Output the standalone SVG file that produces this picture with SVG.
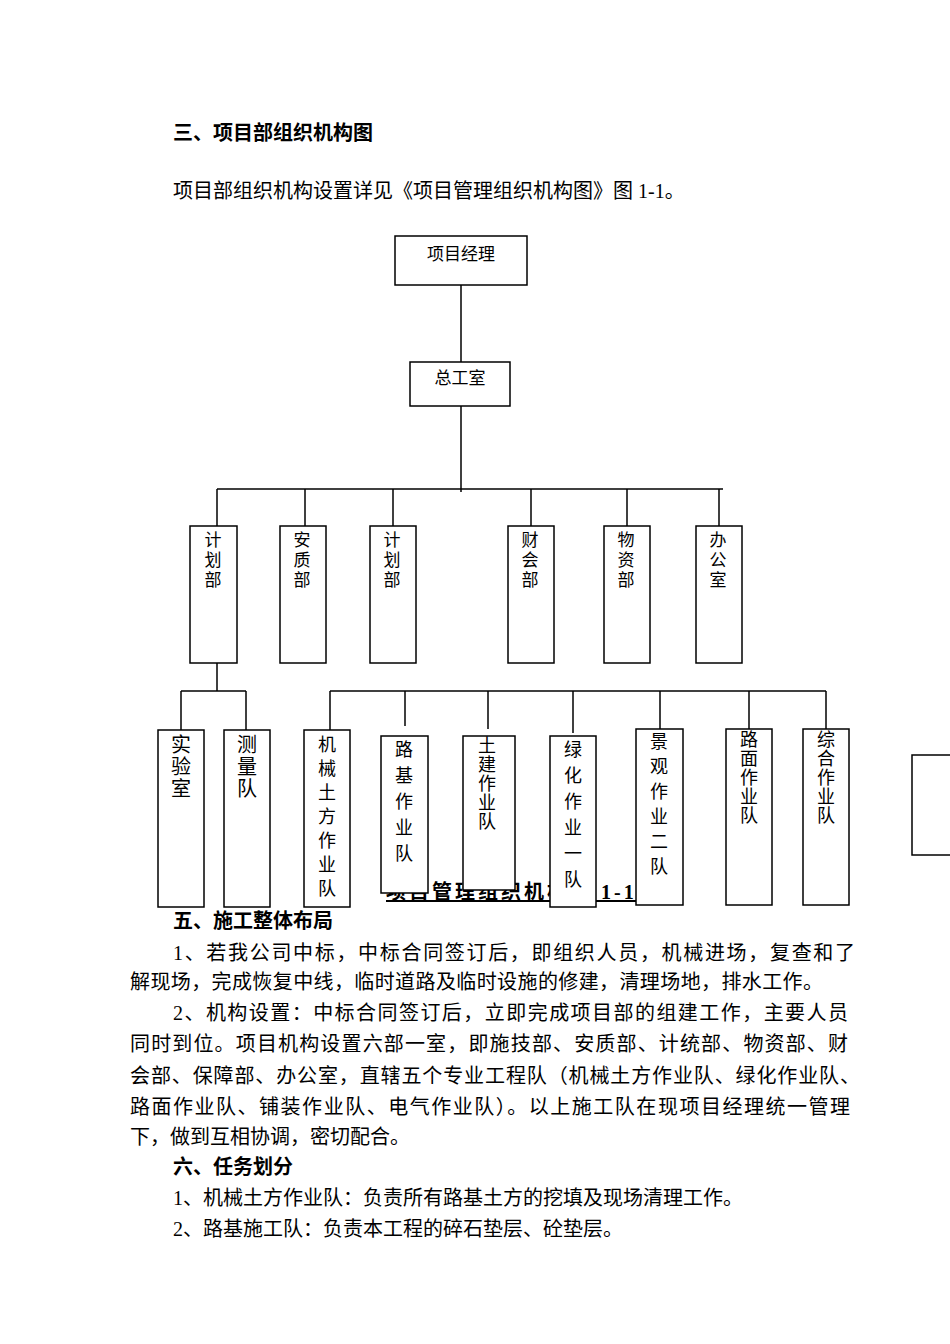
<svg xmlns="http://www.w3.org/2000/svg" width="950" height="1344" viewBox="0 0 950 1344">
<style>
text{font-family:"Liberation Serif","Noto Sans CJK SC",serif;fill:#000}
.b{font-weight:bold}
.p{font-size:20px}
.n{font-size:17px;text-anchor:middle}
.v{font-size:18px;text-anchor:middle}
rect{fill:#fff;stroke:#000;stroke-width:1.5}
.c line{stroke:#000;stroke-width:1.5}
</style>
<rect x="0" y="0" width="950" height="1344" style="stroke:none"/>
<text class="p b" x="173" y="140">三、项目部组织机构图</text>
<text class="p" x="173" y="198">项目部组织机构设置详见《项目管理组织机构图》图 1-1。</text>
<text class="p b" x="386" y="899" letter-spacing="3" text-decoration="underline">项目管理组织机构图 1-1</text>
<g class="c">
<line x1="461" y1="285" x2="461" y2="362"/>
<line x1="461" y1="406" x2="461" y2="492"/>
<line x1="217" y1="489" x2="723" y2="489"/>
<line x1="217" y1="489" x2="217" y2="526"/>
<line x1="305" y1="489" x2="305" y2="526"/>
<line x1="393" y1="489" x2="393" y2="526"/>
<line x1="531" y1="489" x2="531" y2="526"/>
<line x1="627" y1="489" x2="627" y2="526"/>
<line x1="719" y1="489" x2="719" y2="526"/>
<line x1="217" y1="663" x2="217" y2="691"/>
<line x1="181" y1="691" x2="246" y2="691"/>
<line x1="181" y1="691" x2="181" y2="730"/>
<line x1="246" y1="691" x2="246" y2="730"/>
<line x1="330" y1="691" x2="826" y2="691"/>
<line x1="330" y1="691" x2="330" y2="730"/>
<line x1="405" y1="691" x2="405" y2="726"/>
<line x1="488" y1="691" x2="488" y2="729"/>
<line x1="573" y1="691" x2="573" y2="733"/>
<line x1="660" y1="691" x2="660" y2="729"/>
<line x1="749" y1="691" x2="749" y2="729"/>
<line x1="826" y1="691" x2="826" y2="729"/>
</g>
<g id="n1"><rect x="395" y="236" width="132" height="49"/><text class="n" x="461" y="260">项目经理</text></g>
<g id="n2"><rect x="410" y="362" width="100" height="44"/><text class="n" x="460" y="384">总工室</text></g>
<g id="d1"><rect x="190" y="526" width="47" height="137"/><text class="n" x="213" y="546">计<tspan x="213" dy="20">划</tspan><tspan x="213" dy="20">部</tspan></text></g>
<g id="d2"><rect x="280" y="526" width="46" height="137"/><text class="n" x="302" y="546">安<tspan x="302" dy="20">质</tspan><tspan x="302" dy="20">部</tspan></text></g>
<g id="d3"><rect x="370" y="526" width="46" height="137"/><text class="n" x="392" y="546">计<tspan x="392" dy="20">划</tspan><tspan x="392" dy="20">部</tspan></text></g>
<g id="d4"><rect x="508" y="526" width="46" height="137"/><text class="n" x="530" y="546">财<tspan x="530" dy="20">会</tspan><tspan x="530" dy="20">部</tspan></text></g>
<g id="d5"><rect x="604" y="526" width="46" height="137"/><text class="n" x="626" y="546">物<tspan x="626" dy="20">资</tspan><tspan x="626" dy="20">部</tspan></text></g>
<g id="d6"><rect x="696" y="526" width="46" height="137"/><text class="n" x="718" y="546">办<tspan x="718" dy="20">公</tspan><tspan x="718" dy="20">室</tspan></text></g>
<g id="t1"><rect x="158" y="730" width="46" height="177"/><text class="n" x="181" y="752" style="font-size:20px">实<tspan x="181" dy="22">验</tspan><tspan x="181" dy="22">室</tspan></text></g>
<g id="t2"><rect x="224" y="730" width="46" height="177"/><text class="n" x="247" y="752" style="font-size:20px">测<tspan x="247" dy="22">量</tspan><tspan x="247" dy="22">队</tspan></text></g>
<g id="t3"><rect x="304" y="730" width="46" height="177"/><text class="v" x="327" y="751">机<tspan x="327" dy="24">械</tspan><tspan x="327" dy="24">土</tspan><tspan x="327" dy="24">方</tspan><tspan x="327" dy="24">作</tspan><tspan x="327" dy="24">业</tspan><tspan x="327" dy="24">队</tspan></text></g>
<g id="t4"><rect x="381" y="736" width="47" height="157"/><text class="v" x="404" y="756">路<tspan x="404" dy="26">基</tspan><tspan x="404" dy="26">作</tspan><tspan x="404" dy="26">业</tspan><tspan x="404" dy="26">队</tspan></text></g>
<g id="t5"><rect x="463" y="736" width="52" height="154"/><text class="v" x="487" y="752">土<tspan x="487" dy="19">建</tspan><tspan x="487" dy="19">作</tspan><tspan x="487" dy="19">业</tspan><tspan x="487" dy="19">队</tspan></text></g>
<g id="t6"><rect x="550" y="736" width="46" height="171"/><text class="v" x="573" y="756">绿<tspan x="573" dy="26">化</tspan><tspan x="573" dy="26">作</tspan><tspan x="573" dy="26">业</tspan><tspan x="573" dy="26">一</tspan><tspan x="573" dy="26">队</tspan></text></g>
<g id="t7"><rect x="636" y="729" width="47" height="176"/><text class="v" x="659" y="748">景<tspan x="659" dy="25">观</tspan><tspan x="659" dy="25">作</tspan><tspan x="659" dy="25">业</tspan><tspan x="659" dy="25">二</tspan><tspan x="659" dy="25">队</tspan></text></g>
<g id="t8"><rect x="726" y="729" width="46" height="176"/><text class="v" x="749" y="746">路<tspan x="749" dy="19">面</tspan><tspan x="749" dy="19">作</tspan><tspan x="749" dy="19">业</tspan><tspan x="749" dy="19">队</tspan></text></g>
<g id="t9"><rect x="803" y="729" width="46" height="176"/><text class="v" x="826" y="746">综<tspan x="826" dy="19">合</tspan><tspan x="826" dy="19">作</tspan><tspan x="826" dy="19">业</tspan><tspan x="826" dy="19">队</tspan></text></g>
<rect x="912" y="755" width="40" height="100"/>
<text class="p b" x="173" y="928">五、施工整体布局</text>
<text class="p" x="173" y="960" textLength="682">1、若我公司中标，中标合同签订后，即组织人员，机械进场，复查和了</text>
<text class="p" x="130" y="989" textLength="693">解现场，完成恢复中线，临时道路及临时设施的修建，清理场地，排水工作。</text>
<text class="p" x="173" y="1020" textLength="675">2、机构设置：中标合同签订后，立即完成项目部的组建工作，主要人员</text>
<text class="p" x="130" y="1051" textLength="718">同时到位。项目机构设置六部一室，即施技部、安质部、计统部、物资部、财</text>
<text class="p" x="130" y="1083" textLength="730">会部、保障部、办公室，直辖五个专业工程队（机械土方作业队、绿化作业队、</text>
<text class="p" x="130" y="1114" textLength="720">路面作业队、铺装作业队、电气作业队）。以上施工队在现项目经理统一管理</text>
<text class="p" x="130" y="1144">下，做到互相协调，密切配合。</text>
<text class="p b" x="173" y="1174">六、任务划分</text>
<text class="p" x="173" y="1205">1、机械土方作业队：负责所有路基土方的挖填及现场清理工作。</text>
<text class="p" x="173" y="1236">2、路基施工队：负责本工程的碎石垫层、砼垫层。</text>
</svg>
